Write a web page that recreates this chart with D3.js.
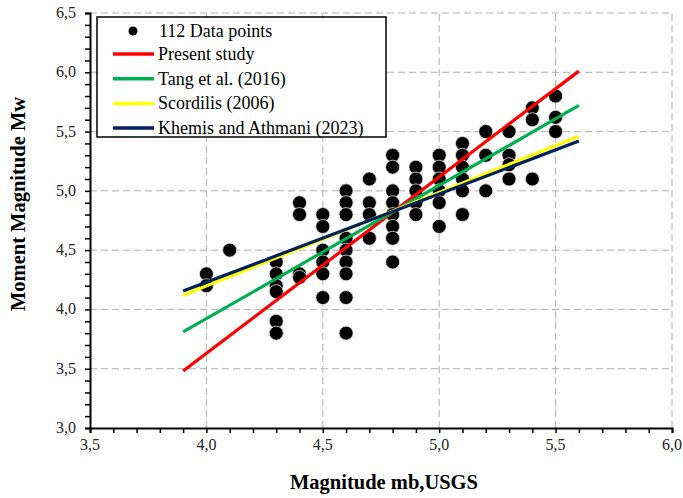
<!DOCTYPE html>
<html><head><meta charset="utf-8">
<script src="https://cdn.jsdelivr.net/npm/d3@7"></script>
<style>body{margin:0;background:#fff}</style>
</head><body>
<svg id="c" width="683" height="498"></svg>
<script>
// Data (mb, Mw)
const mb = [4.0,4.0,4.1,
  4.3,4.3,4.3,4.3,4.3,4.3,
  4.4,4.4,4.4,4.4,
  4.5,4.5,4.5,4.5,4.5,4.5,
  4.6,4.6,4.6,4.6,4.6,4.6,4.6,4.6,4.6,
  4.7,4.7,4.7,4.7,
  4.8,4.8,4.8,4.8,4.8,4.8,4.8,4.8,
  4.9,4.9,4.9,4.9,4.9,
  5.0,5.0,5.0,5.0,5.0,5.0,
  5.1,5.1,5.1,5.1,5.1,5.1,
  5.2,5.2,5.2,
  5.3,5.3,5.3,5.3,
  5.4,5.4,5.4,
  5.5,5.5,5.5];
const mw = [4.3,4.2,4.5,
  4.4,4.3,4.2,4.15,3.9,3.8,
  4.9,4.8,4.3,4.27,
  4.8,4.7,4.5,4.4,4.3,4.1,
  5.0,4.9,4.8,4.6,4.5,4.4,4.3,4.1,3.8,
  5.1,4.9,4.8,4.6,
  5.3,5.2,5.0,4.9,4.8,4.7,4.6,4.4,
  5.2,5.1,5.0,4.9,4.8,
  5.3,5.2,5.1,5.0,4.9,4.7,
  5.4,5.3,5.2,5.1,5.0,4.8,
  5.5,5.3,5.0,
  5.5,5.3,5.22,5.1,
  5.7,5.6,5.1,
  5.8,5.62,5.5];
const lineNames = ["Present study","Tang et al. (2016)","Scordilis (2006)","Khemis and Athmani (2023)"];
const lineColors = ["#ff0000","#00b050","#ffff00","#002060"];
const lineX = [3.9, 5.6];
const lineY = [[3.48,6.01],[3.81,5.72],[4.12,5.46],[4.155,5.42]];
const xTicks = [3.5,4.0,4.5,5.0,5.5,6.0];
const yTicks = [3.0,3.5,4.0,4.5,5.0,5.5,6.0,6.5];

const svg = d3.select("#c");
const x = d3.scaleLinear().domain([3.5,6.0]).range([90,672]);
const y = d3.scaleLinear().domain([3.0,6.5]).range([428,13]);
const fmt = d => d.toFixed(1).replace(".", ",");
const serif = "'Liberation Serif','Times New Roman',serif";

// grid
const g = svg.append("g");
g.selectAll("line.v").data(xTicks.slice(1)).join("line")
  .attr("x1", d=>x(d)).attr("x2", d=>x(d)).attr("y1", y(3.0)).attr("y2", y(6.5))
  .attr("stroke","#b0b0b0").attr("stroke-width",1).attr("stroke-dasharray","7,4");
g.selectAll("line.h").data(yTicks.slice(1)).join("line")
  .attr("y1", d=>y(d)).attr("y2", d=>y(d)).attr("x1", x(3.5)).attr("x2", x(6.0))
  .attr("stroke","#b0b0b0").attr("stroke-width",1).attr("stroke-dasharray","7,4");

// points
const pts = mb.map((v,i)=>[v,mw[i]]);
svg.append("g").selectAll("circle").data(pts).join("circle")
  .attr("cx", d=>x(d[0])).attr("cy", d=>y(d[1])).attr("r", 7)
  .attr("fill","#000").attr("stroke","#e6e6e6").attr("stroke-width",0.8);

// lines
const lg = d3.line().x(d=>x(d[0])).y(d=>y(d[1]));
lineY.forEach((ys,i)=>{
  svg.append("path").attr("d", lg(lineX.map((xv,j)=>[xv, ys[j]])))
    .attr("stroke", lineColors[i]).attr("stroke-width",3.2).attr("fill","none");
});

// axes
const minorX = d3.range(35,61).map(v=>v/10);
const minorY = d3.range(30,66).map(v=>v/10);
const xa = svg.append("g").attr("transform",`translate(0,${y(3.0)})`)
  .call(d3.axisBottom(x).tickValues(minorX).tickSize(5).tickFormat(""));
const ya = svg.append("g").attr("transform",`translate(${x(3.5)},0)`)
  .call(d3.axisLeft(y).tickValues(minorY).tickSize(5).tickFormat(""));
[xa,ya].forEach(a=>{
  a.select(".domain").attr("stroke","#000").attr("stroke-width",2);
  a.selectAll(".tick line").attr("stroke","#000").attr("stroke-width",1.5);
});
svg.append("g").selectAll("text").data(xTicks).join("text")
  .attr("x", d=>x(d)).attr("y", 450).attr("text-anchor","middle")
  .attr("font-family", serif).attr("font-size",16).attr("fill","#222").text(fmt);
svg.append("g").selectAll("text").data(yTicks).join("text")
  .attr("x", 76).attr("y", d=>y(d)+5).attr("text-anchor","end")
  .attr("font-family", serif).attr("font-size",16).attr("fill","#222").text(fmt);

svg.append("text").attr("x",384).attr("y",489).attr("text-anchor","middle")
  .attr("font-family",serif).attr("font-weight","bold").attr("font-size",20.5)
  .text("Magnitude mb,USGS");
svg.append("text").attr("transform","translate(25,204) rotate(-90)").attr("text-anchor","middle")
  .attr("font-family",serif).attr("font-weight","bold").attr("font-size",20.5)
  .text("Moment Magnitude  Mw");

// legend
const L = svg.append("g");
L.append("rect").attr("x",97).attr("y",17).attr("width",289).attr("height",120)
  .attr("fill","#fff").attr("stroke","#000").attr("stroke-width",1.5);
L.append("circle").attr("cx",133).attr("cy",31).attr("r",4.5).attr("fill","#000");
L.append("text").attr("x",159).attr("y",37).attr("font-family",serif).attr("font-size",18).text("112 Data points");
lineNames.forEach((n,i)=>{
  const yy = 54 + i*24.7;
  L.append("line").attr("x1",113).attr("x2",154).attr("y1",yy).attr("y2",yy)
    .attr("stroke",lineColors[i]).attr("stroke-width",3.5);
  L.append("text").attr("x",158).attr("y",yy+6).attr("font-family",serif).attr("font-size",18).text(n);
});
</script>
</body></html>
